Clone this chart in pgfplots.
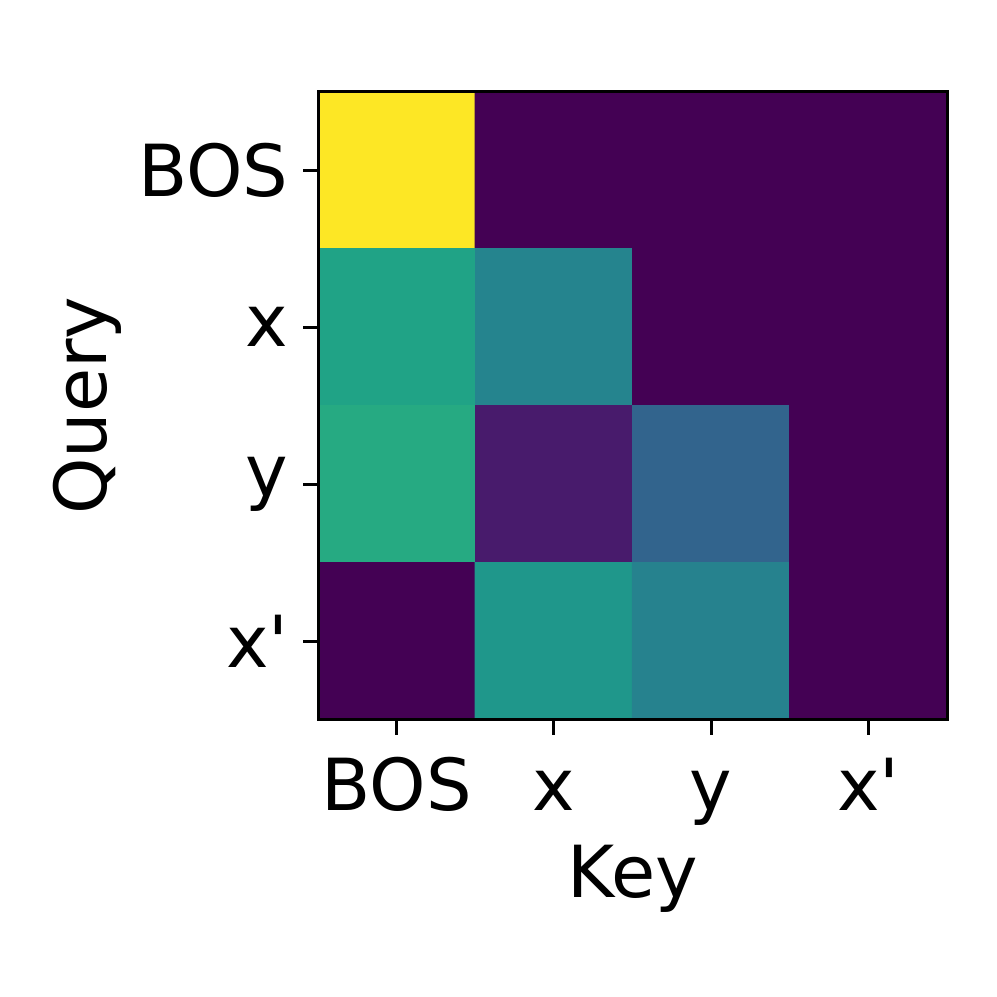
\documentclass[border=0pt]{standalone}
\usepackage{pgfplots}
\pgfplotsset{compat=1.18}
\usepackage{fontspec}
\setmainfont{DejaVu Sans}
\begin{document}
\fontsize{20.5}{24}\selectfont
\begin{tikzpicture}
\begin{axis}[
  at={(0,0)}, anchor=south west,
  scale only axis,
  width=6.31cm, height=6.30cm,
  xmin=-0.5, xmax=3.5, ymin=-0.5, ymax=3.5,
  y dir=reverse,
  enlargelimits=false,
  colormap/viridis,
  point meta min=0, point meta max=1,
  xtick={0,1,2,3}, ytick={0,1,2,3},
  xticklabels={BOS,x,y,x\textquotesingle},
  yticklabels={BOS,x,y,x\textquotesingle},
  tick align=outside,
  major tick length=0.15cm,
  tick style={line width=0.85pt, black},
  xtick pos=bottom, ytick pos=left,
  axis line style={line width=0.85pt},
  ticklabel style={font=\fontsize{20.5}{24}\selectfont},
  xticklabel style={inner sep=0pt, text height=0.75em, text depth=0.25em, yshift=-0.21cm},
  yticklabel style={inner sep=0pt, xshift=-0.14cm},
  label style={font=\fontsize{20.5}{24}\selectfont},
  xlabel={Key}, ylabel={Query},
  xlabel style={yshift=0.08cm},
  ylabel style={yshift=-0.08cm},
  axis on top,
]
\addplot[matrix plot*, mesh/cols=4, point meta=explicit] table[meta=c] {
x y c
0 0 1.00
1 0 0.00
2 0 0.00
3 0 0.00
0 1 0.58
1 1 0.45
2 1 0.00
3 1 0.00
0 2 0.61
1 2 0.07
2 2 0.32
3 2 0.00
0 3 0.00
1 3 0.53
2 3 0.44
3 3 0.00
};
\end{axis}
\pgfresetboundingbox
\path (-3.19cm,-2.78cm) rectangle (6.81cm,7.22cm);
\end{tikzpicture}
\end{document}
